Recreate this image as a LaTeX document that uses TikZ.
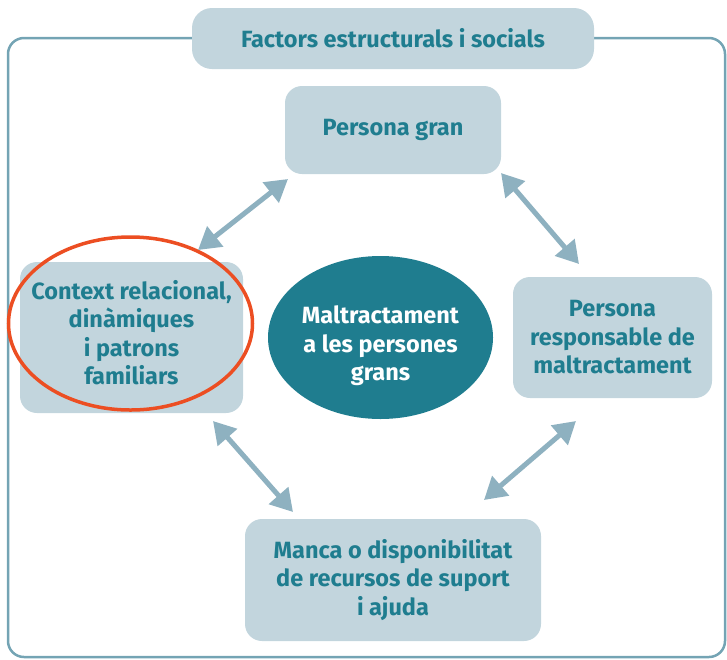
\documentclass[tikz,border=0pt]{standalone}
\usepackage{fontspec}
\setmainfont{Fira Sans}
\usetikzlibrary{shapes.geometric,arrows.meta}

\definecolor{tealdark}{HTML}{1F7D8F}
\definecolor{boxfill}{HTML}{C2D5DD}
\definecolor{framecol}{HTML}{74A4B4}
\definecolor{arrowcol}{HTML}{8EB1C0}
\definecolor{markred}{HTML}{EC4E22}

\tikzset{
    factorbox/.style={rectangle, rounded corners=17pt, fill=boxfill, text=tealdark,
        font=\fontsize{23.5}{28.5}\selectfont\bfseries, align=center, inner sep=0pt},
    linkarrow/.style={{Triangle[length=22pt,width=25pt]}-{Triangle[length=22pt,width=25pt]},
        line width=5pt, draw=arrowcol}
}

\begin{document}
\begin{tikzpicture}[x=1pt, y=-1pt]
    \useasboundingbox (0,0) rectangle (727,659);

    % Outer frame
    \draw[framecol, line width=2.5pt, rounded corners=16pt] (8,38) rectangle (725,657);

    % Title
    \node[factorbox, rounded corners=20pt, minimum width=402pt, minimum height=61pt]
        (title) at (393,38.5) {Factors estructurals i socials};

    % Factor boxes
    \node[factorbox, minimum width=216pt, minimum height=88pt]
        (gran) at (393,130) {Persona gran};
    \node[factorbox, minimum width=199pt, minimum height=121pt]
        (resp) at (612.5,337.5) {Persona\\responsable de\\maltractament};
    \node[factorbox, minimum width=296pt, minimum height=122pt]
        (manca) at (393,580) {Manca o disponibilitat\\de recursos de suport\\i ajuda};
    % text sits a bit high in this one
    \node[factorbox, minimum width=223pt, minimum height=151pt]
        (ctx) at (131.5,337.5) {Context relacional,\\dinàmiques\\i patrons\\familiars\rule[-10pt]{0pt}{10pt}};

    % Centre (text sits a bit low)
    \node[ellipse, fill=tealdark, text=white, minimum width=225pt, minimum height=163pt,
        inner sep=0pt, align=center, font=\fontsize{23.5}{28.5}\selectfont\bfseries]
        (mal) at (380.5,337.5) {\rule{0pt}{35pt}Maltractament\\a les persones\\grans};

    % Highlight
    \draw[markred, line width=3.5pt] (130.5,323.5) ellipse (122pt and 86.5pt);

    % Arrow ends
    \coordinate (ctxN) at (198,250);
    \coordinate (granW) at (288,179);
    \coordinate (granE) at (501,173);
    \coordinate (respN) at (579,264);
    \coordinate (ctxS) at (213,421);
    \coordinate (mancaW) at (293,512);
    \coordinate (respS) at (576,421);
    \coordinate (mancaE) at (484,500);

    % Arrows
    \draw[linkarrow] (ctxN) -- (granW);
    \draw[linkarrow] (granE) -- (respN);
    \draw[linkarrow] (ctxS) -- (mancaW);
    \draw[linkarrow] (respS) -- (mancaE);
\end{tikzpicture}
\end{document}
